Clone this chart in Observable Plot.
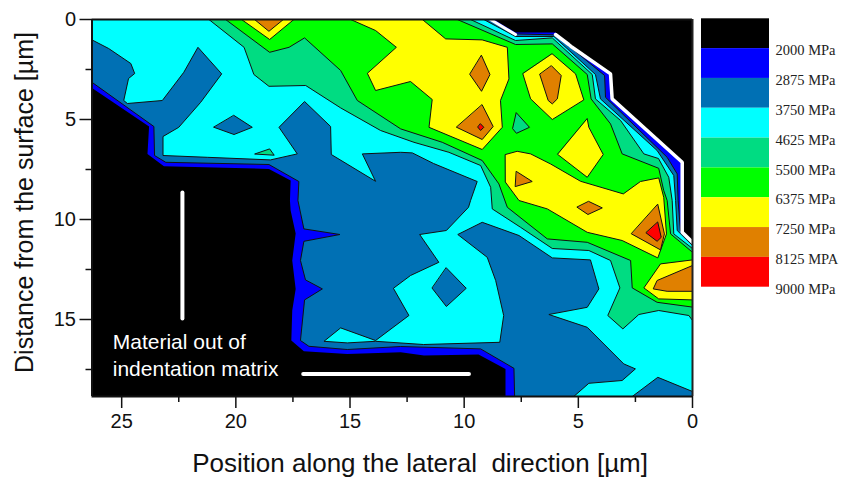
<!DOCTYPE html>
<html><head><meta charset="utf-8">
<script src="https://cdn.jsdelivr.net/npm/d3@7"></script>
<script src="https://cdn.jsdelivr.net/npm/@observablehq/plot@0.6"></script>
<style>html,body{margin:0;padding:0;background:#fff}#w{position:relative;width:852px;height:477px;overflow:hidden}#w svg{position:absolute;left:0;top:0;background:transparent}#legend svg{left:701px;top:0}</style>
</head><body><div id="w"><div id="chart"></div><div id="legend"></div></div>
<script>
const levels=["2000 MPa","2875 MPa","3750 MPa","4625 MPa","5500 MPa","6375 MPa","7250 MPa","8125 MPA","9000 MPa"];
const colors=["#000000","#0000ff","#0070b4","#00ffff","#00dc82","#00ff00","#ffff00","#e08000","#ff0000"];
const [cBlack,cBlue,cSteel,cCyan,cMint,cGreen,cYellow,cOrange,cRed]=colors;
const xMax=26.3,yMax=18.85;
const xMajor=[25,20,15,10,5,0], xMinor=[22.5,17.5,12.5,7.5,2.5];
const yMajor=[0,5,10,15], yMinor=[2.5,7.5,12.5,17.5];

const cyanMain=[[26.3,0],[26.3,1.02],[25.57,1.45],[24.6,2.2],[24.43,2.7],[24.7,2.95],[24.91,4.05],[24.75,4.2],[23.22,4.05],[22.28,2.64],[21.66,1.39],[20.62,2.72],[21.54,4.14],[22.5,5.39],[23.19,5.85],[23.19,6.8],[21.25,6.89],[18.48,7.02],[17.31,6.72],[18.11,5.39],[16.99,4.1],[15.85,5.35],[15.82,6.75],[13.88,8.09],[14.46,6.72],[12.78,6.64],[12.27,6.67],[11.34,7.2],[9.43,8.1],[9.72,9.05],[9.81,9.39],[10.78,10.55],[11.95,10.75],[11.11,12.14],[12.35,12.8],[13.1,13.44],[12.42,14.8],[13.88,16.05],[15.41,15.42],[16.14,16.09],[15.12,16.17],[13.88,16.09],[11.78,16.25],[8.44,16.14],[8.27,14.8],[8.62,13.05],[8.99,11.89],[10.28,10.75],[9.21,10.14],[7.6,10.8],[6.14,11.92],[4.47,12.02],[4.1,13.47],[4.61,14.39],[6.29,14.75],[4.61,15.39],[3.01,17.22],[2.5,17.47],[3.08,18.05],[4.54,18.19],[5.2,18.85],[2.64,18.85],[1.52,17.89],[0,18.6],[0,0]];
const steelIslands=[
 [[20.08,4.8],[19.28,5.39],[20.08,5.75],[20.96,5.39]],
 [[10.78,12.42],[9.91,13.44],[10.78,14.35],[11.4,13.44]]];
const mintBand=[[21.18,0],[19.64,1.39],[19.21,2.75],[18.55,3.34],[16.94,3.3],[15.41,4.42],[13.66,5.55],[12.2,6.14],[10.67,6.64],[9.28,7.3],[8.84,8.39],[8.77,9.47],[7.53,10.39],[6.14,11.45],[4.54,11.55],[3.59,12.05],[3.18,13.42],[3.71,14.8],[3.05,15.47],[2.35,14.75],[1.48,14.55],[0.16,14.8],[0,15.05],[0,11.45],[0.82,10.72],[0.89,9.05],[1.04,7.89],[1.49,6.95],[2.13,6.72],[3.15,5.05],[4.25,3.97],[4.39,2.75],[6.14,0.92],[7.75,1.05],[9.72,0]];
const mintIslands=[
 [[19.16,6.72],[18.52,6.47],[18.33,6.77]]];
const greenBand=[[20.45,0],[18.52,1.64],[17.67,1.39],[16.99,0.92],[15.41,2.55],[14.68,4.05],[12.78,5.47],[10.96,6.14],[9.21,7.05],[8.48,8.22],[8.11,9.39],[6.36,10.97],[4.61,11.14],[2.71,12.05],[2.64,13.42],[1.55,14.14],[0,14.38],[0,11.64],[0.96,10.72],[1.11,9.05],[1.26,8.55],[1.48,7.44],[3.08,6.72],[3.59,5.22],[4.44,3.97],[4.61,2.75],[6.14,1.22],[7.75,1.25],[10.3,0]];
const mintInGreen=[[7.71,4.67],[7.14,5.39],[7.71,5.69],[7.87,5.47]];
const yellowAreas=[
 [[19.75,0],[18.52,1],[17.46,0]],
 [[14.97,0],[13.88,0.55],[12.97,1.39],[14.24,2.69],[13.88,3.55],[12.35,3.1],[11.4,4],[11.54,5.39],[9.21,6.5],[8.33,5.39],[8.41,4.05],[8.04,2.97],[8.11,1.39],[9.21,1.02],[10.81,0.97],[11.83,0]],
 [[6.14,1.72],[5.12,2.72],[4.76,4.02],[6.14,5],[7.09,3.97],[7.43,2.72]],
 [[4.61,4.97],[4.54,5.39],[3.91,6.75],[4.61,7.89],[5.9,6.75]],
 [[8.19,6.75],[7.68,6.59],[7.09,6.72],[6.22,7.22],[4.9,8.09],[3.03,8.72],[2.28,8.1],[1.48,7.92],[1.26,8.89],[1.14,10.72],[1.52,11.92],[3.08,11.05],[4.61,10.64],[6.36,9.47],[7.6,9.05],[8.19,8.14]],
 [[0,12.02],[1.4,12.22],[2.13,13.42],[1.48,13.97],[0,14.02]]];
const orangeAreas=[
 [[19.18,0],[18.55,0.59],[17.92,0]],
 [[9.24,1.8],[8.87,2.75],[9.24,3.59],[9.75,2.75]],
 [[9.21,4.27],[8.73,5.35],[9.21,6],[10.33,5.39]],
 [[6.17,2.32],[5.75,2.8],[5.92,3.97],[6.14,4.22],[6.32,4.05],[6.69,2.75]],
 [[7.71,7.6],[7.02,8.1],[7.75,8.35]],
 [[4.54,9.1],[3.95,9.42],[4.58,9.75],[5.05,9.39]],
 [[1.52,9.25],[1.23,10.72],[1.4,11.52],[2.67,10.72]],
 [[0,12.3],[1.55,13.05],[1.72,13.47],[1.11,13.59],[0,13.59]]];
const redAreas=[
 [[9.28,5.22],[9.14,5.39],[9.28,5.55],[9.4,5.39]],
 [[1.52,10.14],[1.37,10.89],[1.55,11.09],[2.03,10.67]]];
const steelCorner=[[9.14,0],[7.75,0.85],[6.07,0.85],[4.25,2.75],[4.03,3.97],[1.55,6.55],[0.82,7.8],[0.74,9.05],[0.67,10.55],[0,11.3],[0,0]];
const blueCorner=[[8.93,0],[7.75,0.72],[6,0.77],[3.85,2.8],[3.81,3.89],[1.11,6.89],[0.67,7.72],[0.63,9.05],[0.53,10.55],[0,11.14],[0,0]];
const blackCorner=[[8.7,0],[7.75,0.65],[6,0.65],[5.42,1.25],[5.27,1.39],[3.59,2.72],[3.52,3.97],[0.45,7.14],[0.45,10.64],[0,11.14],[0,0]];
const whiteEdgeA=[[8.85,0],[7.75,0.75]];
const whiteEdgeB=[[6.0,0.75],[5.42,1.25],[5.27,1.39],[3.59,2.72],[3.52,3.97],[0.45,7.14],[0.45,10.64],[0,11.14]];
const blueEdge=[[26.3,3.14],[23.59,5.35],[23.56,6.8],[23.07,7.14],[18.55,7.25],[17.24,8.1],[17.28,9.05],[17.02,10.47],[15.44,10.75],[17.02,11.09],[17.17,12.05],[16.95,13.02],[16.21,13.47],[16.99,14.02],[17.17,16.05],[16.8,16.34],[15.12,16.5],[12.78,16.35],[9.28,16.47],[7.82,17.44],[7.79,18.85],[26.3,18.85]];
const blackEdge=[[26.3,3.42],[23.8,5.35],[23.87,6.72],[23.15,7.34],[18.55,7.47],[17.6,8.05],[17.63,9.05],[17.6,9.55],[17.38,10.7],[17.53,12.05],[17.38,13.47],[17.53,14.55],[17.57,16.05],[17.02,16.59],[15.12,16.72],[12.78,16.64],[11.76,16.8],[9.37,16.75],[8.19,17.47],[8.19,18.85],[26.3,18.85]];
const whiteVertical=[[22.34,8.65],[22.34,14.95]];
const whiteHorizontal=[[17.05,17.72],[9.79,17.72]];
const notes=[{x:25.39,y:16.15,t:"Material out of"},{x:25.39,y:17.47,t:"indentation matrix"}];

const poly=(pts,fill,stroke="#111")=>Plot.line(pts,{x:d=>d[0],y:d=>d[1],curve:"linear-closed",fill,stroke,strokeWidth:stroke==="none"?0:1,clip:true});
const wline=(pts,w)=>Plot.line(pts,{x:d=>d[0],y:d=>d[1],stroke:"#fff",strokeWidth:w,strokeLinecap:"round",strokeLinejoin:"miter"});

const chart=Plot.plot({
  width:852,height:477,marginLeft:91.5,marginRight:160,marginTop:19,marginBottom:81,
  style:{fontFamily:"Liberation Sans, Arial, sans-serif",color:"#111",background:"transparent"},
  x:{domain:[xMax,0]},y:{domain:[yMax,0]},
  marks:[
    Plot.frame({fill:cSteel,stroke:"none"}),
    poly(cyanMain,cCyan),
    ...steelIslands.map(p=>poly(p,cSteel)),
    ...mintIslands.map(p=>poly(p,cMint)),
    poly(mintBand,cMint),
    poly(greenBand,cGreen),
    poly(mintInGreen,cMint),
    ...yellowAreas.map(p=>poly(p,cYellow)),
    ...orangeAreas.map(p=>poly(p,cOrange)),
    ...redAreas.map(p=>poly(p,cRed)),
    poly(steelCorner,cSteel),
    poly(blueCorner,cBlue),
    poly(blackCorner,cBlack,"none"),
    poly(blueEdge,cBlue),
    poly(blackEdge,cBlack,"none"),
    wline(whiteEdgeA,3),wline(whiteEdgeB,3.5),
    wline(whiteVertical,4),wline(whiteHorizontal,4),
    Plot.text(notes,{x:"x",y:"y",text:"t",fill:"#fff",textAnchor:"start",fontSize:21}),
    Plot.ruleY([0],{stroke:"#111",strokeWidth:2}),
    Plot.ruleY([yMax],{stroke:"#111",strokeWidth:2}),
    Plot.ruleX([xMax],{stroke:"#111",strokeWidth:2}),
    Plot.ruleX([0],{stroke:"#222",strokeWidth:2}),
    Plot.axisX({ticks:xMajor,anchor:"bottom",tickSize:12,tickPadding:5,fontSize:20,label:null,stroke:"#111",strokeWidth:1.5,tickFormat:d=>String(d)}),
    Plot.axisX({ticks:xMinor,anchor:"bottom",tickSize:6,label:null,stroke:"#111",strokeWidth:1.5,tickFormat:()=>""}),
    Plot.axisY({ticks:yMajor,anchor:"left",tickSize:12,tickPadding:4,fontSize:20,label:null,stroke:"#111",strokeWidth:1.5,tickFormat:d=>String(d)}),
    Plot.axisY({ticks:yMinor,anchor:"left",tickSize:6,label:null,stroke:"#111",strokeWidth:1.5,tickFormat:()=>""}),
    Plot.text(["Position along the lateral  direction [µm]"],{frameAnchor:"bottom",dy:75,x:11.93,fontSize:26,fill:"#111"}),
    Plot.text(["Distance from the surface [µm]"],{frameAnchor:"left",textAnchor:"middle",dx:-67,rotate:-90,fontSize:25,fill:"#111",y:9.15})
  ]
});
document.getElementById("chart").append(chart);

const legend=Plot.plot({
  width:151,height:300,marginLeft:0,marginRight:83,marginTop:18.3,marginBottom:13.3,
  style:{fontFamily:"Liberation Serif, Times New Roman, serif",color:"#222",background:"transparent"},
  x:{domain:[0,1],axis:null},y:{type:"band",domain:levels,padding:0,round:false,axis:null},
  marks:[
    Plot.barX(levels,{x1:()=>0,x2:()=>1,y:d=>d,fill:(d,i)=>colors[i]}),
    Plot.text(levels,{x:()=>1,y:d=>d,text:d=>d,dx:6,dy:17,textAnchor:"start",fontSize:14.5,fill:"#222"})
  ]
});
document.getElementById("legend").append(legend);
</script></body></html>
